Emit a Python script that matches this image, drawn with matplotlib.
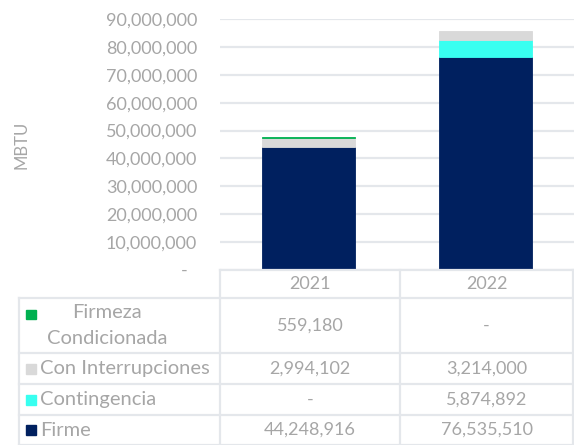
import matplotlib
matplotlib.use("Agg")
import matplotlib.pyplot as plt
from matplotlib.ticker import FuncFormatter

years = ["2021", "2022"]
firme = [44248916, 76535510]
contingencia = [0, 5874892]
interrupciones = [2994102, 3214000]
firmeza_cond = [559180, 0]
colors = {"Firme": "#00205F", "Contingencia": "#38FFF0",
          "Con Interrupciones": "#D9D9D9", "Firmeza\nCondicionada": "#00B050"}
yticks = list(range(0, 90000001, 10000000))

W, H = 574, 445
fig = plt.figure(figsize=(W / 100, H / 100), dpi=100)
plt.rcParams['font.family'] = ['Lato', 'DejaVu Sans']
txt = "#A6A6A6"
grid = "#E4E7EB"
fs = 13
fs_lab = 14.5

def fx(px):
    return px / W

def fy(py):
    return 1 - py / H

ax_l, ax_r, ax_t, ax_b = 220, 574, 19, 270
ax = fig.add_axes([fx(ax_l), fy(ax_b), fx(ax_r) - fx(ax_l), fy(ax_t) - fy(ax_b)])
x = [0, 1]
ax.set_xlim(-0.5, 1.5)
ax.set_ylim(0, 90000000)
bw = 0.52
bottom = [0, 0]
for name, vals in [("Firme", firme), ("Contingencia", contingencia),
                   ("Con Interrupciones", interrupciones), ("Firmeza\nCondicionada", firmeza_cond)]:
    ax.bar(x, vals, bw, bottom=bottom, color=colors[name], zorder=3,
           edgecolor=[colors[name] if v > 0 else "none" for v in vals], linewidth=0.6)
    bottom = [b + v for b, v in zip(bottom, vals)]
ax.set_yticks(yticks)
ax.yaxis.set_major_formatter(FuncFormatter(lambda v, p: "-  " if v == 0 else f"{int(v):,}"))
ax.tick_params(axis='y', length=0, labelsize=fs, labelcolor=txt, pad=16.5)
ax.set_xticks([])
ax.grid(axis='y', color=grid, linewidth=1.6, zorder=0)
for s in ax.spines.values():
    s.set_visible(False)
fig.text(fx(21), fy(145), "MBTU", rotation=90, ha='center', va='center', color=txt, fontsize=fs - 1)

# table overlay in pixel coords
tab = fig.add_axes([0, 0, 1, 1])
tab.set_xlim(0, W)
tab.set_ylim(H, 0)
tab.axis('off')
lc = grid
lw = 1.6
col_x = [19, 220, 400, 573]
row_y = [298, 353, 384, 415, 445]
tab.plot([220, 573], [270, 270], color=lc, lw=lw)
for cx in col_x[1:]:
    tab.plot([cx, cx], [270, 445], color=lc, lw=lw)
tab.plot([19, 19], [298, 445], color=lc, lw=lw)
for ry in row_y:
    tab.plot([19, 573], [ry, ry], color=lc, lw=lw)
centers = [(col_x[1] + col_x[2]) / 2, (col_x[2] + col_x[3]) / 2]
for cx, yr in zip(centers, years):
    tab.text(cx, 284, yr, ha='center', va='center', color=txt, fontsize=fs)

rows = [("Firmeza\nCondicionada", firmeza_cond),
        ("Con Interrupciones", interrupciones),
        ("Contingencia", contingencia),
        ("Firme", firme)]
for i, (name, vals) in enumerate(rows):
    y0, y1 = row_y[i], row_y[i + 1]
    yc = (y0 + y1) / 2
    if "\n" in name:
        tab.add_patch(plt.Rectangle((26, 310), 10, 9, color=colors[name]))
        tab.text(107, 313, name.split("\n")[0], ha='center', va='center', color=txt, fontsize=fs_lab)
        tab.text(107, 338, name.split("\n")[1], ha='center', va='center', color=txt, fontsize=fs_lab)
    else:
        tab.add_patch(plt.Rectangle((26, yc - 5), 10, 10, color=colors[name]))
        tab.text(40, yc, name, ha='left', va='center', color=txt, fontsize=fs_lab)
    for cx, v in zip(centers, vals):
        tab.text(cx, yc, "-" if v == 0 else f"{v:,}", ha='center', va='center', color=txt, fontsize=fs)

fig.savefig("out.png", dpi=100)
